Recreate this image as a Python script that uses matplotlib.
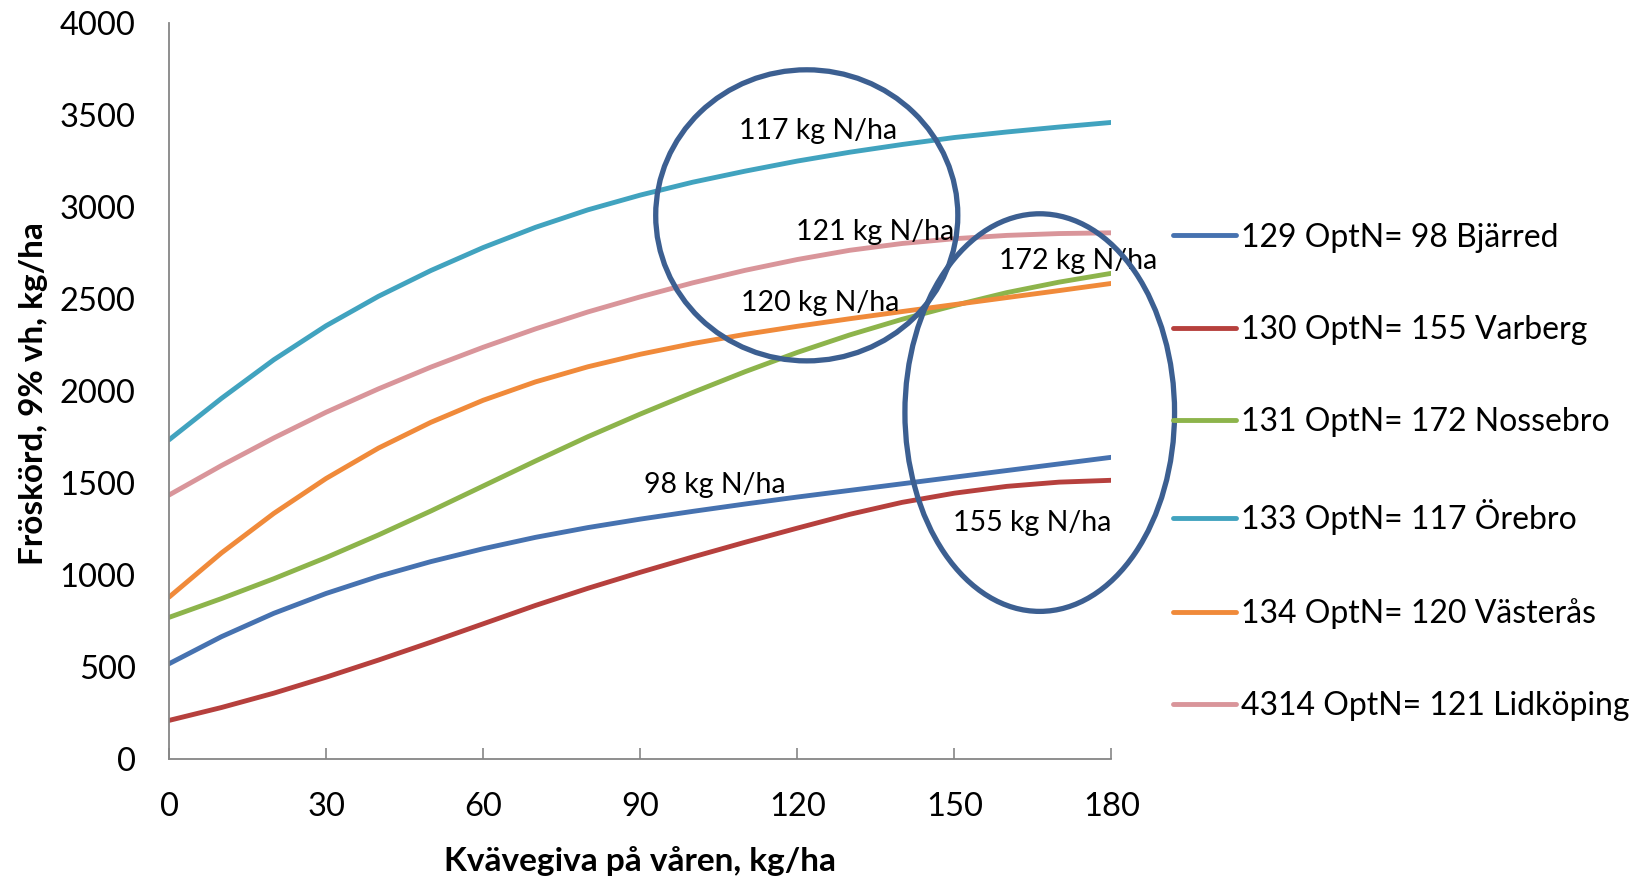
import numpy as np
import matplotlib.pyplot as plt
from matplotlib.patches import Ellipse

plt.rcParams['font.family'] = ['Lato', 'DejaVu Sans']

# kväve, kg/ha
n_rate = [0, 10, 20, 30, 40, 50, 60, 70, 80, 90, 100, 110, 120, 130, 140, 150, 160, 170, 180]

# fröskörd per försök, kg/ha
bjarred = [518, 665, 792, 900, 993, 1073, 1143, 1205, 1258, 1304, 1346, 1386, 1424, 1460, 1496, 1532, 1568, 1604, 1640]
varberg = [210, 280, 358, 445, 538, 635, 735, 835, 928, 1015, 1098, 1178, 1255, 1330, 1395, 1445, 1482, 1505, 1515]
nossebro = [770, 872, 980, 1095, 1218, 1348, 1484, 1620, 1752, 1875, 1992, 2105, 2210, 2305, 2390, 2465, 2535, 2592, 2640]
orebro = [1735, 1960, 2170, 2355, 2515, 2655, 2780, 2890, 2985, 3065, 3135, 3195, 3250, 3298, 3340, 3378, 3408, 3435, 3460]
vasteras = [880, 1120, 1335, 1525, 1690, 1830, 1950, 2050, 2132, 2200, 2258, 2308, 2352, 2393, 2432, 2470, 2508, 2546, 2585]
lidkoping = [1435, 1595, 1745, 1885, 2012, 2130, 2238, 2338, 2430, 2512, 2588, 2656, 2715, 2765, 2802, 2828, 2846, 2856, 2860]

series = [bjarred, varberg, nossebro, orebro, vasteras, lidkoping]
labels = ['129 OptN= 98 Bjärred', '130 OptN= 155 Varberg', '131 OptN= 172 Nossebro',
          '133 OptN= 117 Örebro', '134 OptN= 120 Västerås', '4314 OptN= 121 Lidköping']
colors = ['#4672B0', '#B6403D', '#8DB44B', '#41A3BF', '#F08A3A', '#D9959A']

x_ticks = [0, 30, 60, 90, 120, 150, 180]
y_ticks = [0, 500, 1000, 1500, 2000, 2500, 3000, 3500, 4000]

fig = plt.figure(figsize=(16.35, 8.77), dpi=100)
ax = fig.add_axes([0.1034, 0.1345, 0.5764, 0.8392])

for ys, lab, col in zip(series, labels, colors):
    ax.plot(n_rate, ys, color=col, lw=3.5, label=lab, solid_capstyle='round',
            solid_joinstyle='round')

ax.set_xlim(0, 180)
ax.set_ylim(0, 4000)
ax.set_xticks(x_ticks)
ax.set_yticks(y_ticks)
ax.tick_params(axis='x', direction='in', length=8, width=1.2, color='#868686',
               pad=24, labelsize=23.5)
ax.tick_params(axis='y', length=0, pad=24, labelsize=23.5)
for side in ['top', 'right']:
    ax.spines[side].set_visible(False)
for side in ['left', 'bottom']:
    ax.spines[side].set_color('#868686')
    ax.spines[side].set_linewidth(1.3)

ax.set_xlabel('Kvävegiva på våren, kg/ha', fontsize=24, fontweight='bold')
ax.xaxis.set_label_coords(0.5, -0.139)
ax.xaxis.label.set_va('center')
ax.set_ylabel('Fröskörd, 9% vh, kg/ha', fontsize=24, fontweight='bold')
ax.yaxis.set_label_coords(-0.1443, 0.4965)
ax.yaxis.label.set_va('center')

# optimum-etiketter
notes = [('117 kg N/ha', 123.9, 3416), ('121 kg N/ha', 134.9, 2865),
         ('120 kg N/ha', 124.3, 2480), ('172 kg N/ha', 173.7, 2709),
         ('98 kg N/ha', 104.2, 1492), ('155 kg N/ha', 164.9, 1285)]
for txt, xx, yy in notes:
    ax.text(xx, yy, txt, fontsize=20.5, ha='center', va='center', clip_on=False, zorder=5)

# ringar
ring_col = '#3C5F91'
ax.add_patch(Ellipse((121.8, 2955), 57.7, 1582, fill=False, ec=ring_col, lw=3.8,
                     clip_on=False, zorder=6))
ax.add_patch(Ellipse((166.3, 1883), 51.5, 2161, fill=False, ec=ring_col, lw=3.8,
                     clip_on=False, zorder=6))

fig.legend(loc='center left', bbox_to_anchor=(0.7174, 0.462), frameon=False,
           fontsize=23, handlelength=1.97, handletextpad=0.15, labelspacing=1.95,
           borderpad=0, borderaxespad=0)

fig.savefig('out.png', dpi=100)
